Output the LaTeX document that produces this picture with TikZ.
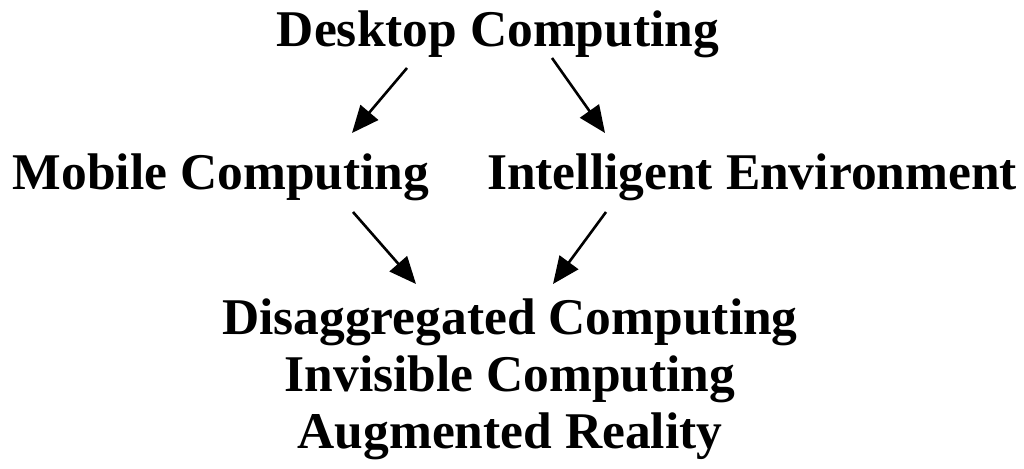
\documentclass[tikz,border=0pt]{standalone}
\usepackage{fontspec}
\setmainfont{Liberation Serif}
\usetikzlibrary{arrows.meta}
\begin{document}
\begin{tikzpicture}[x=1pt,y=-1pt,
  label/.style={anchor=base,inner sep=0pt,font=\bfseries\fontsize{51.5}{57}\selectfont},
  flow/.style={line width=2.6pt,-{Triangle[length=27pt,width=23pt]}}]
  \useasboundingbox (0,0) rectangle (1024,468);
  % labels
  \node[label] (desk) at (498,47) {Desktop Computing};
  \node[label] (mob) at (221,189) {Mobile Computing};
  \node[label] (intel) at (752,189) {Intelligent Environment};
  \node[label] (dis) at (510,334) {Disaggregated Computing};
  \node[label] (inv) at (510,391) {Invisible Computing};
  \node[label] (aug) at (510,448) {Augmented Reality};
  % arrow end points
  \coordinate (d1) at (407,68);
  \coordinate (m1) at (352,133);
  \coordinate (d2) at (552,58);
  \coordinate (i1) at (605,133);
  \coordinate (m2) at (353,212);
  \coordinate (x1) at (416,284);
  \coordinate (i2) at (606,212);
  \coordinate (x2) at (553,284);
  \draw[flow] (d1) -- (m1);
  \draw[flow] (d2) -- (i1);
  \draw[flow] (m2) -- (x1);
  \draw[flow] (i2) -- (x2);
\end{tikzpicture}
\end{document}
